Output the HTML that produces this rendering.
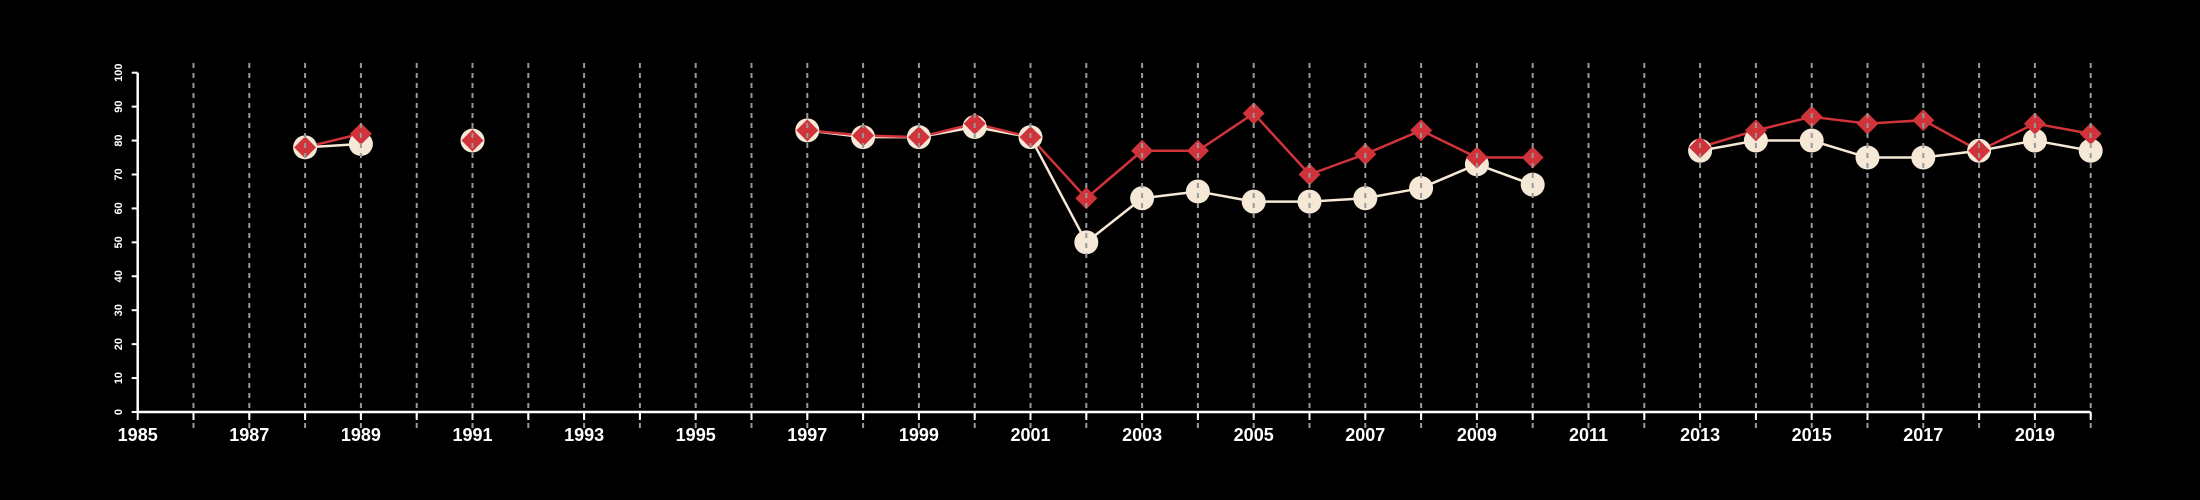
<!DOCTYPE html>
<html><head><meta charset="utf-8"><style>
html,body{margin:0;padding:0;background:#000;}
svg{display:block;}
text{font-family:"Liberation Sans",sans-serif;fill:#fff;font-weight:bold;}
</style></head><body>
<svg id="chart" width="2200" height="500" xmlns="http://www.w3.org/2000/svg">
<rect width="2200" height="500" fill="#000"/>
<g id="lines"></g>
<g id="marks"></g>
<g id="grid"></g>
<g id="axes"></g>
</svg>
<script>
const years = [1988,1989,1990,1991,1992,1993,1994,1995,1996,1997,1998,1999,2000,2001,2002,2003,2004,2005,2006,2007,2008,2009,2010,2011,2012,2013,2014,2015,2016,2017,2018,2019,2020];
const seriesA = [78,79,null,80,null,null,null,null,null,83,81,81,84,81,50,63,65,62,62,63,66,73,67,null,null,77,80,80,75,75,77,80,77];
const seriesB = [78,82,null,80,null,null,null,null,null,83,81.5,81,85,81,63,77,77,88,70,76,83,75,75,null,null,78,83,87,85,86,77,85,82];
const yTicks = [0,10,20,30,40,50,60,70,80,90,100];
const xLabels = [1985,1987,1989,1991,1993,1995,1997,1999,2001,2003,2005,2007,2009,2011,2013,2015,2017,2019];

const NS = "http://www.w3.org/2000/svg";
const X0 = 137.7, XS = 55.8, Y0 = 412, YS = 3.393;
const xp = y => X0 + (y - 1985) * XS;
const yp = v => Y0 - v * YS;
function mk(tag, attrs, parent){const e=document.createElementNS(NS,tag);for(const k in attrs)e.setAttribute(k,attrs[k]);parent.appendChild(e);return e;}
const grid=document.getElementById('grid'),axes=document.getElementById('axes'),lines=document.getElementById('lines'),marks=document.getElementById('marks');

for(let y=1986;y<=2020;y++){
  const l=mk('line',{x1:xp(y),x2:xp(y),y1:63,y2:428,stroke:'#999','stroke-width':2,'stroke-dasharray':'5,5'},grid);
  
  
}
const xa=mk('line',{x1:xp(1985),x2:xp(2020),y1:Y0,y2:Y0,stroke:'#fff','stroke-width':2.5},axes);


const ya=mk('line',{x1:X0,x2:X0,y1:yp(100),y2:Y0,stroke:'#fff','stroke-width':2.5},axes);


for(let y=1985;y<=2020;y++){
  const t=mk('line',{x1:xp(y),x2:xp(y),y1:Y0,y2:Y0+8,stroke:'#fff','stroke-width':2},axes);
  
  
}
xLabels.forEach(y=>{
  const t=mk('text',{x:xp(y),y:441,'text-anchor':'middle','font-size':18},axes);
  t.textContent=y;
  
  
});
yTicks.forEach(v=>{
  const t=mk('line',{x1:X0-6,x2:X0,y1:yp(v),y2:yp(v),stroke:'#fff','stroke-width':2},axes);
  
  
  const tx=mk('text',{x:0,y:0,'text-anchor':'middle','font-size':11,transform:`translate(122,${yp(v)}) rotate(-90)`},axes);
  tx.textContent=v;
  
  
});
function drawLines(arr,color,name){
  for(let i=0;i<arr.length-1;i++){
    if(arr[i]==null||arr[i+1]==null)continue;
    const l=mk('line',{x1:xp(years[i]),y1:yp(arr[i]),x2:xp(years[i+1]),y2:yp(arr[i+1]),stroke:color,'stroke-width':2.5},lines);
    
    
  }
}
drawLines(seriesA,'#f5e8d6','series-a-line');
drawLines(seriesB,'#d0343a','series-b-line');
seriesA.forEach((v,i)=>{
  if(v==null)return;
  const c=mk('circle',{cx:xp(years[i]),cy:yp(v),r:12,fill:'#f5e8d6'},marks);
  
  
});
seriesB.forEach((v,i)=>{
  if(v==null)return;
  const x=xp(years[i]),y=yp(v),r=11;
  const p=mk('polygon',{points:`${x},${y-r} ${x+r},${y} ${x},${y+r} ${x-r},${y}`,fill:'#d0343a'},marks);
  
  
});
</script>
</body></html>
